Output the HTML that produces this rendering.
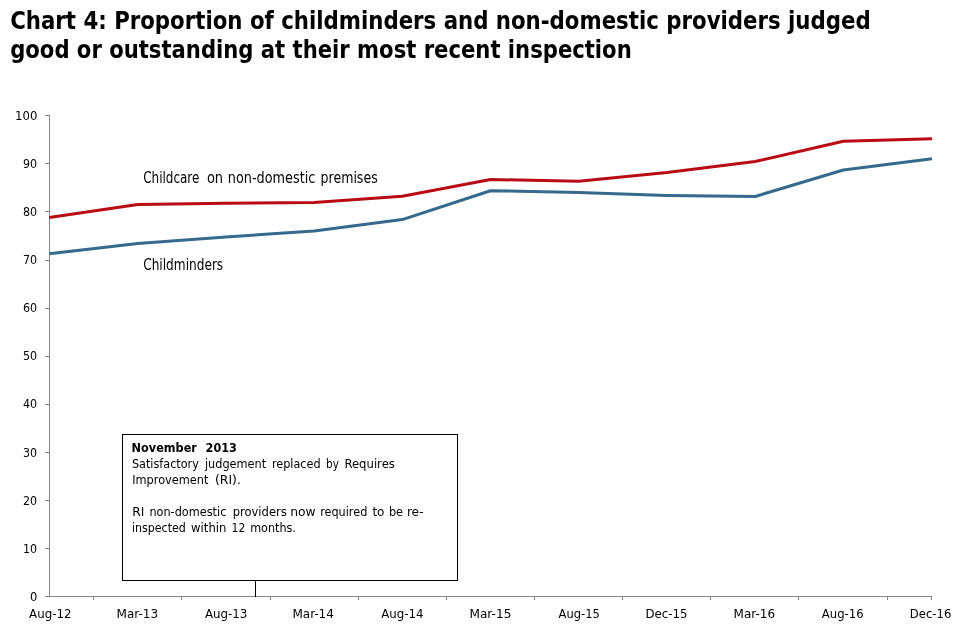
<!DOCTYPE html>
<html lang="en"><head><meta charset="utf-8"><title>Chart 4</title>
<style>
html,body{margin:0;padding:0;background:#fff;}
body{width:960px;height:640px;overflow:hidden;}
svg{display:block;}
text{font-family:"DejaVu Sans Condensed","DejaVu Sans","Liberation Sans",sans-serif;fill:#000;}
.t{font-weight:bold;font-size:24px;}
.ax{font-size:12.4px;}
.lb{font-size:15px;}
.bx{font-size:12.2px;}
.b{font-weight:bold;}
</style></head><body>
<svg width="960" height="640" viewBox="0 0 960 640">
<rect width="960" height="640" fill="#fff"/>
<text class="t" x="10.2" y="29" textLength="860.5" lengthAdjust="spacingAndGlyphs">Chart 4: Proportion of childminders and non-domestic providers judged</text>
<text class="t" x="10.2" y="58" textLength="621.5" lengthAdjust="spacingAndGlyphs">good or outstanding at their most recent inspection</text>
<g stroke="#868686" stroke-width="1" fill="none" shape-rendering="crispEdges">
<path d="M49.5 115V597"/>
<path d="M45 596.5H932"/>
<path d="M45 548.5H50"/>
<path d="M45 500.5H50"/>
<path d="M45 452.5H50"/>
<path d="M45 404.5H50"/>
<path d="M45 356.5H50"/>
<path d="M45 308.5H50"/>
<path d="M45 260.5H50"/>
<path d="M45 211.5H50"/>
<path d="M45 163.5H50"/>
<path d="M45 115.5H50"/>
<path d="M93.5 596V600"/>
<path d="M181.5 596V600"/>
<path d="M270.5 596V600"/>
<path d="M358.5 596V600"/>
<path d="M446.5 596V600"/>
<path d="M534.5 596V600"/>
<path d="M622.5 596V600"/>
<path d="M710.5 596V600"/>
<path d="M798.5 596V600"/>
<path d="M887.5 596V600"/>
<path d="M931.5 596V600"/>
</g>
<text class="ax" x="29.9" y="601" textLength="7.3" lengthAdjust="spacingAndGlyphs">0</text>
<text class="ax" x="23.0" y="553" textLength="14.1" lengthAdjust="spacingAndGlyphs">10</text>
<text class="ax" x="23.0" y="505" textLength="14.1" lengthAdjust="spacingAndGlyphs">20</text>
<text class="ax" x="23.0" y="457" textLength="14.1" lengthAdjust="spacingAndGlyphs">30</text>
<text class="ax" x="23.0" y="408" textLength="14.1" lengthAdjust="spacingAndGlyphs">40</text>
<text class="ax" x="23.0" y="360" textLength="14.1" lengthAdjust="spacingAndGlyphs">50</text>
<text class="ax" x="23.0" y="312" textLength="14.1" lengthAdjust="spacingAndGlyphs">60</text>
<text class="ax" x="23.0" y="264" textLength="14.1" lengthAdjust="spacingAndGlyphs">70</text>
<text class="ax" x="23.0" y="216" textLength="14.1" lengthAdjust="spacingAndGlyphs">80</text>
<text class="ax" x="23.0" y="168" textLength="14.1" lengthAdjust="spacingAndGlyphs">90</text>
<text class="ax" x="15.1" y="120" textLength="22.3" lengthAdjust="spacingAndGlyphs">100</text>
<text class="ax" x="29.1" y="618" textLength="42.4" lengthAdjust="spacingAndGlyphs">Aug-12</text>
<text class="ax" x="116.6" y="618" textLength="41.5" lengthAdjust="spacingAndGlyphs">Mar-13</text>
<text class="ax" x="204.9" y="618" textLength="42.5" lengthAdjust="spacingAndGlyphs">Aug-13</text>
<text class="ax" x="292.4" y="618" textLength="41.5" lengthAdjust="spacingAndGlyphs">Mar-14</text>
<text class="ax" x="381.3" y="618" textLength="42.3" lengthAdjust="spacingAndGlyphs">Aug-14</text>
<text class="ax" x="469.4" y="618" textLength="42.0" lengthAdjust="spacingAndGlyphs">Mar-15</text>
<text class="ax" x="558.6" y="618" textLength="41.2" lengthAdjust="spacingAndGlyphs">Aug-15</text>
<text class="ax" x="645.5" y="618" textLength="42.0" lengthAdjust="spacingAndGlyphs">Dec-15</text>
<text class="ax" x="733.6" y="618" textLength="41.5" lengthAdjust="spacingAndGlyphs">Mar-16</text>
<text class="ax" x="821.8" y="618" textLength="41.9" lengthAdjust="spacingAndGlyphs">Aug-16</text>
<text class="ax" x="909.8" y="618" textLength="41.5" lengthAdjust="spacingAndGlyphs">Dec-16</text>
<polyline points="49.30,253.75 137.70,243.40 225.90,237.00 314.10,231.10 402.30,219.60 490.50,190.75 578.70,192.40 666.90,195.40 755.10,196.50 843.30,170.00 932.00,158.75" fill="none" stroke="#36698B" stroke-width="3" stroke-linejoin="round" stroke-linecap="butt"/>
<polyline points="49.30,217.50 137.70,204.50 225.90,203.30 314.10,202.40 402.30,196.20 490.50,179.50 578.70,181.25 666.90,172.40 755.10,161.50 843.30,141.25 932.00,138.70" fill="none" stroke="#B90B14" stroke-width="3" stroke-linejoin="round" stroke-linecap="butt"/>
<text class="lb" y="183.0"><tspan x="143.2" textLength="56.2" lengthAdjust="spacingAndGlyphs">Childcare</tspan> <tspan x="206.9" textLength="16.2" lengthAdjust="spacingAndGlyphs">on</tspan> <tspan x="227.8" textLength="87.5" lengthAdjust="spacingAndGlyphs">non-domestic</tspan> <tspan x="320.6" textLength="57.1" lengthAdjust="spacingAndGlyphs">premises</tspan></text>
<text class="lb" y="270.0"><tspan x="143.2" textLength="80.0" lengthAdjust="spacingAndGlyphs">Childminders</tspan></text>
<g stroke="#000" stroke-width="1" fill="none" shape-rendering="crispEdges"><rect x="122.5" y="434.5" width="335" height="146" fill="#fff"/><path d="M255.5 581V597"/></g>
<text class="bx b" y="452"><tspan x="131.6" textLength="65.3" lengthAdjust="spacingAndGlyphs">November</tspan> <tspan x="205.6" textLength="31.3" lengthAdjust="spacingAndGlyphs">2013</tspan></text>
<text class="bx" y="468"><tspan x="131.9" textLength="67.0" lengthAdjust="spacingAndGlyphs">Satisfactory</tspan> <tspan x="204.9" textLength="61.3" lengthAdjust="spacingAndGlyphs">judgement</tspan> <tspan x="271.9" textLength="48.7" lengthAdjust="spacingAndGlyphs">replaced</tspan> <tspan x="326.1" textLength="12.8" lengthAdjust="spacingAndGlyphs">by</tspan> <tspan x="344.4" textLength="50.5" lengthAdjust="spacingAndGlyphs">Requires</tspan></text>
<text class="bx" y="484"><tspan x="132.2" textLength="76.2" lengthAdjust="spacingAndGlyphs">Improvement</tspan> <tspan x="214.9" textLength="26.0" lengthAdjust="spacingAndGlyphs">(RI).</tspan></text>
<text class="bx" y="516"><tspan x="132.3" textLength="12.1" lengthAdjust="spacingAndGlyphs">RI</tspan> <tspan x="149.4" textLength="77.0" lengthAdjust="spacingAndGlyphs">non-domestic</tspan> <tspan x="232.7" textLength="54.1" lengthAdjust="spacingAndGlyphs">providers</tspan> <tspan x="290.2" textLength="25.4" lengthAdjust="spacingAndGlyphs">now</tspan> <tspan x="320.2" textLength="47.1" lengthAdjust="spacingAndGlyphs">required</tspan> <tspan x="372.4" textLength="12.0" lengthAdjust="spacingAndGlyphs">to</tspan> <tspan x="388.9" textLength="14.2" lengthAdjust="spacingAndGlyphs">be</tspan> <tspan x="406.9" textLength="16.7" lengthAdjust="spacingAndGlyphs">re-</tspan></text>
<text class="bx" y="532"><tspan x="131.9" textLength="54.0" lengthAdjust="spacingAndGlyphs">inspected</tspan> <tspan x="191.1" textLength="35.3" lengthAdjust="spacingAndGlyphs">within</tspan> <tspan x="231.6" textLength="13.7" lengthAdjust="spacingAndGlyphs">12</tspan> <tspan x="250.2" textLength="45.7" lengthAdjust="spacingAndGlyphs">months.</tspan></text>
</svg></body></html>
